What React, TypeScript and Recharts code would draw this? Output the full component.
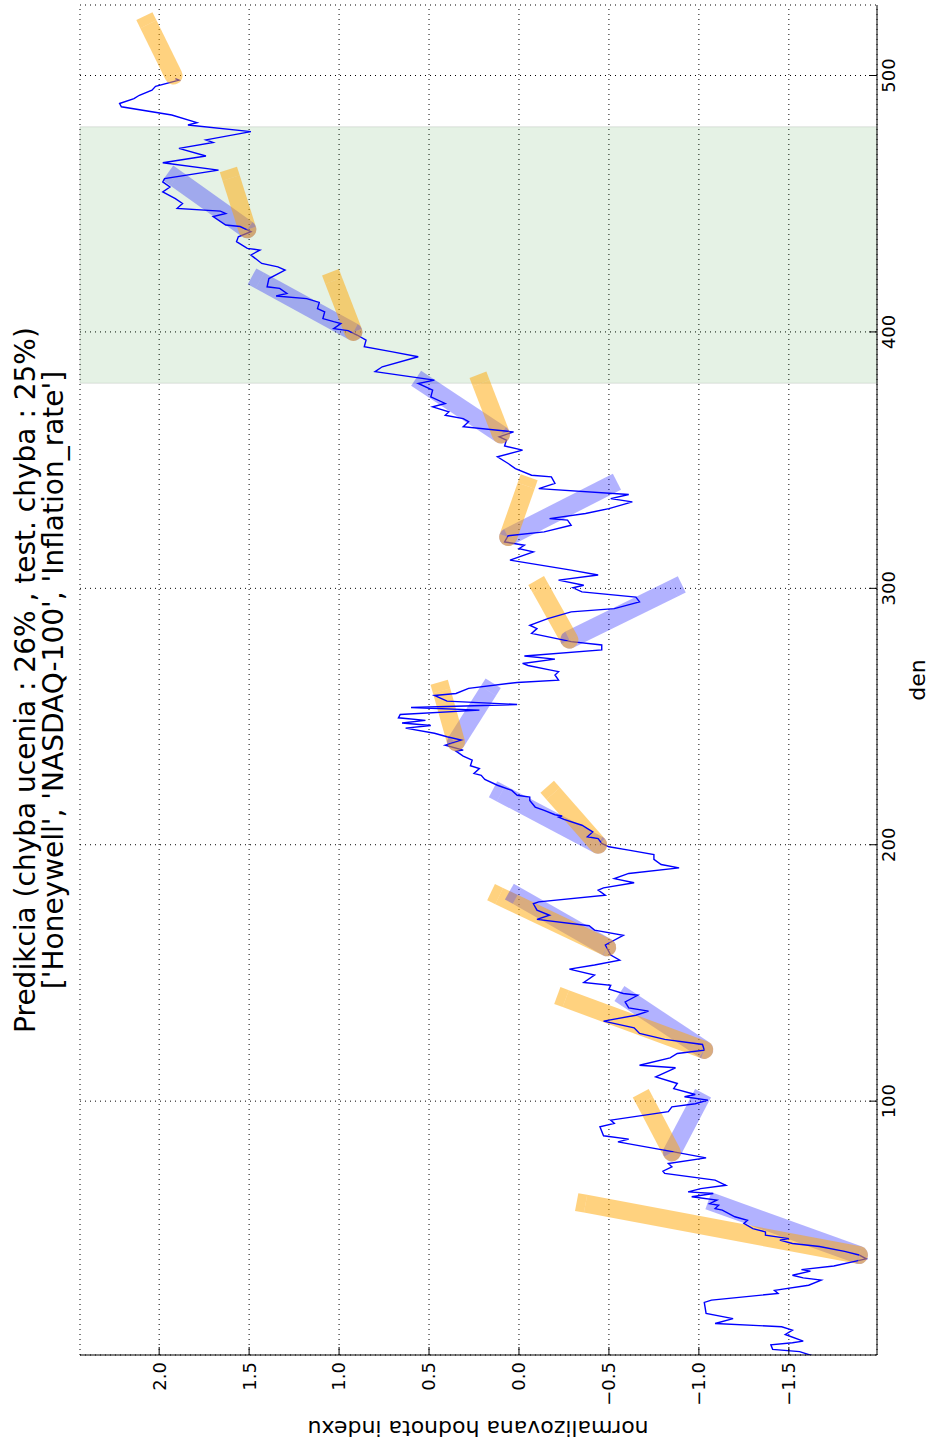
import { CartesianGrid, Line, LineChart, ReferenceArea, XAxis, YAxis } from "recharts";

// skutocny index: [den, normalizovana hodnota]
const ACTUAL: [number, number][] = [
  [0.5, -1.64], [2.3, -1.56], [3.2, -1.41], [5.0, -1.4], [5.8, -1.52], [6.4, -1.58], [9.0, -1.48],
  [10.7, -1.52], [12.0, -1.46], [13.3, -1.09], [15.2, -1.19], [17.2, -1.04], [21.5, -1.03], [22.4, -1.07],
  [25.0, -1.44], [26.2, -1.42], [28.2, -1.61], [30.2, -1.68], [31.1, -1.58], [32.1, -1.52], [33.7, -1.62],
  [34.3, -1.57], [35.7, -1.75], [38.5, -1.93], [40.0, -1.89], [41.4, -1.81], [43.3, -1.67], [44.5, -1.52],
  [45.8, -1.45], [46.4, -1.5], [47.7, -1.37], [49.0, -1.37], [50.3, -1.3], [52.3, -1.25], [53.5, -1.27],
  [54.9, -1.2], [57.5, -1.13], [58.1, -1.09], [59.4, -1.11], [60.0, -1.06], [61.4, -1.1], [62.7, -0.96],
  [64.0, -1.08], [64.6, -0.94], [65.9, -1.01], [67.2, -1.15], [69.2, -1.09], [71.8, -0.81], [72.7, -0.8],
  [74.4, -0.85], [75.7, -0.83], [77.9, -1.04], [80.2, -0.86], [84.1, -0.55], [85.2, -0.61], [86.5, -0.47],
  [90.0, -0.45], [91.3, -0.53], [92.6, -0.51], [95.9, -0.83], [97.8, -0.85], [99.0, -0.98], [100.4, -1.05],
  [101.7, -0.92], [102.6, -0.98], [104.9, -0.86], [106.9, -0.88], [109.5, -0.76], [113.0, -0.87], [114.0, -0.67],
  [116.9, -0.84], [118.6, -0.88], [119.9, -1.03], [122.1, -1.02], [124.1, -0.81], [126.4, -0.67], [128.6, -0.64],
  [131.2, -0.47], [133.5, -0.65], [135.1, -0.72], [136.4, -0.61], [138.7, -0.59], [141.3, -0.66], [142.0, -0.58],
  [143.7, -0.5], [145.2, -0.51], [146.3, -0.36], [149.2, -0.42], [151.5, -0.28], [153.1, -0.42], [155.0, -0.56],
  [157.0, -0.51], [160.9, -0.48], [164.7, -0.58], [166.7, -0.42], [168.4, -0.39], [170.9, -0.1], [172.5, -0.17],
  [174.5, -0.1], [177.0, -0.08], [177.7, -0.11], [180.3, -0.48], [182.3, -0.44], [183.2, -0.47], [185.2, -0.64],
  [186.8, -0.53], [188.8, -0.61], [191.0, -0.89], [192.3, -0.79], [194.3, -0.75], [196.2, -0.75], [197.9, -0.61],
  [199.2, -0.5], [200.5, -0.46], [202.4, -0.44], [203.1, -0.38], [205.0, -0.41], [207.6, -0.35], [209.9, -0.25],
  [210.8, -0.22], [211.2, -0.24], [211.7, -0.2], [213.4, -0.14], [214.7, -0.09], [217.3, -0.06], [218.6, -0.06],
  [219.3, 0.01], [221.2, 0.04], [223.2, 0.12], [225.5, 0.19], [227.1, 0.21], [227.8, 0.25], [229.7, 0.22],
  [230.8, 0.27], [233.0, 0.26], [234.6, 0.31], [236.5, 0.35], [236.9, 0.31], [238.8, 0.41], [240.8, 0.32],
  [242.1, 0.4], [243.5, 0.47], [245.5, 0.63], [246.5, 0.49], [247.5, 0.65], [248.5, 0.52], [249.5, 0.67],
  [250.8, 0.66], [252.5, 0.22], [253.5, 0.6], [254.7, 0.01], [256.0, 0.4], [258.2, 0.47], [259.0, 0.35],
  [261.0, 0.28], [263.3, 0.01], [264.2, -0.22], [266.2, -0.2], [267.5, -0.22], [268.2, -0.17], [269.9, -0.05],
  [270.7, -0.02], [272.4, -0.2], [273.6, -0.03], [276.0, -0.46], [277.9, -0.46], [279.2, -0.29], [282.4, -0.07],
  [284.3, -0.1], [285.6, -0.06], [288.2, -0.16], [290.8, -0.29], [292.1, -0.53], [294.7, -0.67], [296.6, -0.65],
  [298.6, -0.35], [300.2, -0.3], [301.2, -0.36], [303.2, -0.22], [305.2, -0.44], [307.1, -0.29], [311.0, 0.05],
  [314.2, -0.08], [315.5, 0.0], [316.8, -0.03], [318.1, 0.08], [320.5, 0.06], [322.0, -0.14], [324.6, -0.29],
  [326.6, -0.27], [327.2, -0.17], [329.2, -0.37], [331.1, -0.5], [333.7, -0.63], [335.0, -0.51], [336.6, -0.61],
  [338.9, -0.11], [340.9, -0.2], [343.5, -0.18], [344.1, -0.07], [346.7, 0.02], [348.7, 0.06], [351.3, 0.12],
  [353.9, -0.02], [355.5, 0.08], [357.8, 0.07], [359.1, 0.11], [361.0, 0.03], [363.0, 0.31], [365.0, 0.28],
  [366.2, 0.31], [367.5, 0.41], [368.8, 0.39], [370.8, 0.48], [372.1, 0.41], [374.7, 0.49], [377.3, 0.48],
  [379.9, 0.56], [381.2, 0.47], [384.5, 0.8], [386.4, 0.76], [390.3, 0.56], [392.3, 0.71], [394.2, 0.86],
  [396.8, 0.85], [398.8, 0.9], [400.5, 0.95], [401.3, 1.03], [403.3, 0.99], [404.0, 1.03], [405.2, 1.09],
  [407.8, 1.08], [409.1, 1.12], [411.5, 1.11], [413.0, 1.18], [414.0, 1.35], [415.0, 1.29], [417.0, 1.33],
  [417.6, 1.4], [420.8, 1.39], [424.1, 1.3], [425.4, 1.34], [426.7, 1.43], [430.0, 1.49], [431.9, 1.44],
  [432.6, 1.51], [435.2, 1.57], [437.1, 1.56], [439.1, 1.49], [441.1, 1.55], [441.7, 1.63], [445.0, 1.7],
  [446.2, 1.63], [447.1, 1.66], [448.2, 1.9], [450.1, 1.87], [452.0, 1.91], [454.6, 1.98], [456.5, 1.94],
  [458.5, 1.98], [459.8, 1.97], [463.1, 1.67], [466.0, 1.98], [468.6, 1.74], [471.6, 1.89], [473.9, 1.7],
  [474.9, 1.74], [478.1, 1.49], [480.7, 1.84], [481.6, 1.79], [484.6, 1.93], [487.8, 2.21], [489.1, 2.22],
  [491.0, 2.14], [492.3, 2.11], [494.3, 2.04], [495.8, 2.02], [498.2, 1.89], [498.8, 1.91],
];

// predikcie na 20 dni dopredu
const PRED_DAYS = [40, 80, 120, 160, 200, 240, 280, 320, 360, 400, 440, 500];
const PRED_START = [-1.89, -0.85, -1.03, -0.49, -0.44, 0.35, -0.28, 0.06, 0.1, 0.92, 1.51, 1.92];
const PRED_A_END = [-0.37, -0.7, -0.26, 0.11, -0.19, 0.43, -0.12, -0.04, 0.21, 1.03, 1.6, 2.06];
const PRED_B_END: (number | null)[] = [-1.1, -1.0, -0.6, 0.01, 0.1, 0.17, -0.86, -0.5, 0.53, 1.44, 1.91, null];
const HORIZON = 20;

const TEST_SPAN = [380, 480];
const X_TICKS = [100, 200, 300, 400, 500];
const Y_TICKS = [-1.5, -1, -0.5, 0, 0.5, 1, 1.5, 2];

const TITLE = [
  "Predikcia (chyba ucenia : 26% , test. chyba : 25%)",
  "['Honeywell', 'NASDAQ-100', 'Inflation_rate']",
];

const W = 1448;
const H = 933;
const FONT = "'DejaVu Sans', sans-serif";
const ORANGE = "#ffa500";
const BLUE = "#0000ff";
const BAND = 18;

const actualData = ACTUAL.map(([d, v]) => ({ d, v }));

const segA = PRED_DAYS.map((d, i) => [
  { d, v: PRED_START[i] },
  { d: d + HORIZON, v: PRED_A_END[i] },
]);
const segB = PRED_DAYS.map((d, i) =>
  PRED_B_END[i] == null
    ? null
    : [
        { d, v: PRED_START[i] },
        { d: d + HORIZON, v: PRED_B_END[i] as number },
      ]
);

const fmtY = (v: number) => v.toFixed(1).replace("-", "\u2212");

// round cap at the start, square cap at the end, drawn next to the butt-capped band
function bandCaps(color: string, alpha: number) {
  return (p: any) => {
    const pts = p.points;
    if (!pts || pts.length < 2) return <g />;
    const a = pts[0];
    const b = pts[pts.length - 1];
    const len = Math.hypot(b.x - a.x, b.y - a.y) || 1;
    const ux = (b.x - a.x) / len;
    const uy = (b.y - a.y) / len;
    const nx = -uy;
    const ny = ux;
    const r = BAND / 2;
    const d =
      p.index === 0
        ? `M${a.x + nx * r},${a.y + ny * r} A${r},${r} 0 0 1 ${a.x - nx * r},${a.y - ny * r} Z`
        : `M${b.x + nx * r},${b.y + ny * r} L${b.x + nx * r + ux * r},${b.y + ny * r + uy * r} ` +
          `L${b.x - nx * r + ux * r},${b.y - ny * r + uy * r} L${b.x - nx * r},${b.y - ny * r} Z`;
    return <path d={d} fill={color} fillOpacity={alpha} stroke="none" />;
  };
}

export default function App() {
  return (
    <div style={{ position: "relative", width: H, height: W, overflow: "hidden", fontFamily: FONT }}>
      <style>{"body { margin: 0; }"}</style>
      <div
        style={{
          position: "absolute",
          left: 0,
          top: 0,
          width: W,
          height: H,
          transformOrigin: "0 0",
          transform: `translate(0px, ${W}px) rotate(-90deg)`,
        }}
      >
        <div
          style={{
            position: "absolute",
            left: 93,
            width: W - 98,
            top: 12,
            textAlign: "center",
            fontSize: 28,
            lineHeight: "28px",
            color: "#000",
          }}
        >
          {TITLE.map((t) => (
            <div key={t}>{t}</div>
          ))}
        </div>
        <div
          style={{
            position: "absolute",
            left: 20 - 300,
            top: 478 - 14,
            width: 600,
            height: 28,
            lineHeight: "28px",
            textAlign: "center",
            fontSize: 22,
            transform: "rotate(-90deg)",
          }}
        >
          normalizovana hodnota indexu
        </div>
        <div
          style={{
            position: "absolute",
            left: 93,
            width: W - 98,
            top: 904,
            textAlign: "center",
            fontSize: 22,
            lineHeight: "28px",
          }}
        >
          den
        </div>
        <LineChart width={W} height={H} data={actualData} margin={{ top: 80, right: 5, bottom: 0, left: 0 }}>
          <ReferenceArea
            x1={TEST_SPAN[0]}
            x2={TEST_SPAN[1]}
            fill="#008000"
            fillOpacity={0.1}
            stroke="#000"
            strokeOpacity={0.1}
          />
          <CartesianGrid stroke="#000" strokeDasharray="1 4" />
          <XAxis
            dataKey="d"
            type="number"
            domain={[1, 527.5]}
            ticks={X_TICKS}
            allowDataOverflow
            height={56}
            tickSize={-8}
            tickMargin={13}
            stroke="#000"
            tick={{ fill: "#000", fontSize: 18 }}
          />
          <XAxis
            xAxisId="top"
            orientation="top"
            dataKey="d"
            type="number"
            domain={[1, 527.5]}
            ticks={X_TICKS}
            allowDataOverflow
            height={0}
            tickSize={-8}
            tick={false}
            stroke="#000"
          />
          <YAxis
            type="number"
            domain={[-1.99, 2.44]}
            ticks={Y_TICKS}
            allowDataOverflow
            width={93}
            tickSize={-8}
            tickMargin={15}
            tickFormatter={fmtY}
            stroke="#000"
            tick={{ fill: "#000", fontSize: 18 }}
          />
          <YAxis
            yAxisId="right"
            orientation="right"
            type="number"
            domain={[-1.99, 2.44]}
            ticks={Y_TICKS}
            allowDataOverflow
            width={0}
            tickSize={-8}
            tick={false}
            stroke="#000"
          />
          {segB.map((s, i) =>
            s ? (
              <Line
                key={`b${i}`}
                data={s}
                dataKey="v"
                stroke={BLUE}
                strokeOpacity={0.3}
                strokeWidth={BAND}
                strokeLinecap="butt"
                dot={bandCaps(BLUE, 0.3)}
                activeDot={false}
                legendType="none"
                isAnimationActive={false}
              />
            ) : null
          )}
          {segA.map((s, i) => (
            <Line
              key={`a${i}`}
              data={s}
              dataKey="v"
              stroke={ORANGE}
              strokeOpacity={0.5}
              strokeWidth={BAND}
              strokeLinecap="butt"
              dot={bandCaps(ORANGE, 0.5)}
              activeDot={false}
              legendType="none"
              isAnimationActive={false}
            />
          ))}
          <Line
            dataKey="v"
            stroke={BLUE}
            strokeWidth={1.4}
            dot={false}
            activeDot={false}
            isAnimationActive={false}
          />
        </LineChart>
      </div>
    </div>
  );
}
